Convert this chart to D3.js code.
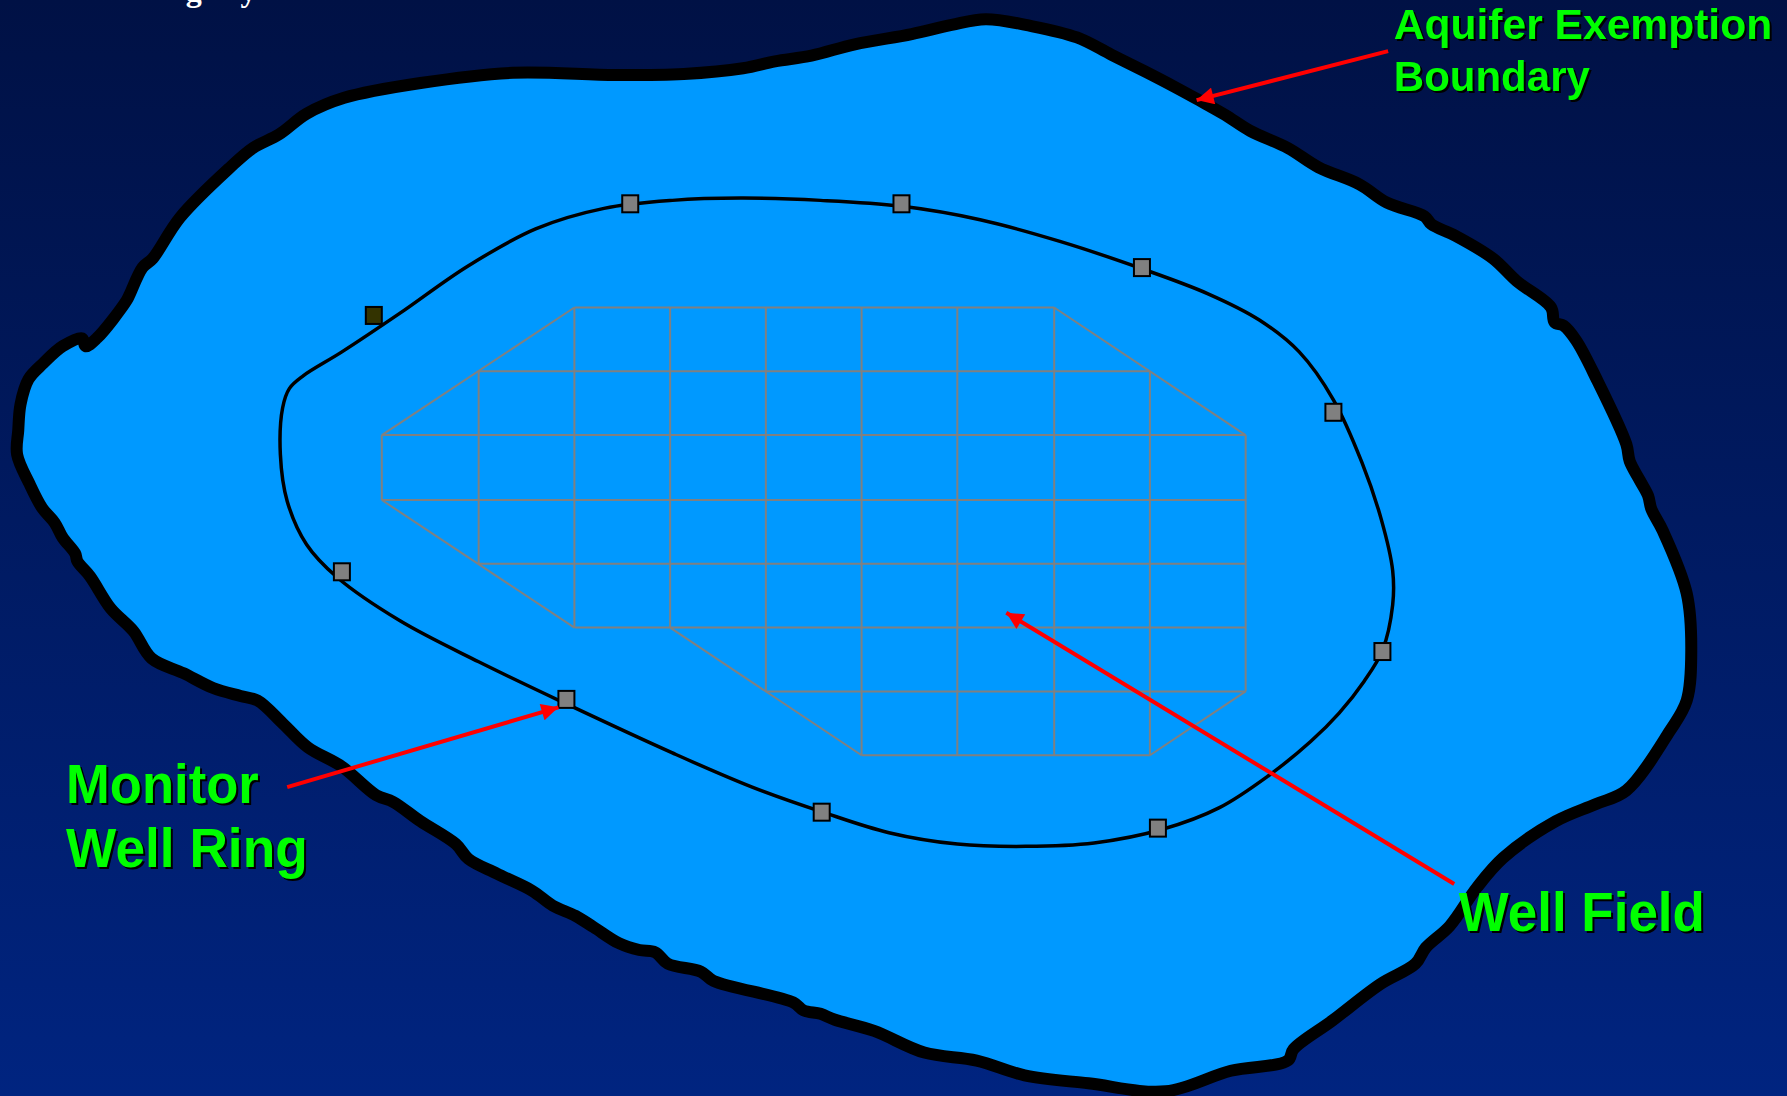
<!DOCTYPE html>
<html>
<head>
<meta charset="utf-8">
<script src="https://cdn.jsdelivr.net/npm/d3@7"></script>
<style>
html, body { margin: 0; padding: 0; background: #001147; overflow: hidden; }
svg { display: block; }
</style>
</head>
<body>
<div id="chartholder"></div>
<script>
var boundary = [[450,63],[540,65],[600,64],[652,59],[680,53],[712,48],[750,38],[800,29],[835,21],[865,16],[905,22],[945,32],[975,47],[1005,62],[1030,75],[1052,87],[1075,100],[1097,114],[1130,129],[1157,146],[1193,161],[1217,177],[1250,189],[1256,196],[1277,206],[1310,226],[1331,246],[1361,269],[1364,282],[1372,285],[1383,298],[1401,332],[1427,389],[1430,404],[1439,421],[1446,434],[1449,446],[1459,465],[1480,520],[1484,570],[1480,614],[1465,641],[1427,693],[1400,705],[1365,720],[1319,752],[1296,778],[1272,812],[1251,831],[1242,845],[1211,863],[1169,895],[1135,920],[1130,930],[1080,939],[1023,957],[955,950],[899,943],[857,930],[811,923],[767,904],[732,894],[720,889],[705,886],[696,879],[626,860],[615,852],[586,845],[575,835],[561,833],[543,827],[521,813],[505,803],[485,794],[467,781],[436,766],[411,753],[400,740],[369,720],[345,703],[330,697],[300,672],[270,655],[248,634],[226,614],[211,610],[187,603],[161,590],[133,577],[117,553],[97,533],[79,505],[68,492],[66,485],[55,471],[48,458],[37,445],[26,424],[15,398],[16,377],[18,354],[25,332],[38,318],[55,303],[72,296],[75,303],[85,296],[111,263],[114,257],[125,234],[134,226],[158,190],[202,146],[222,129],[245,117],[269,99],[302,85],[369,72]];

var ring = [[266,329],[300,308],[351,274],[410,233],[470,200],[530,182],[590,175],[650,173],[720,175],[790,180],[860,192],[930,211],[1002,235],[1060,257],[1105,280],[1140,308],[1170,350],[1195,405],[1212,455],[1222,500],[1222,530],[1213,570],[1197,597],[1175,625],[1150,650],[1113,680],[1070,708],[1020,727],[960,739],[900,742],[840,740],[780,730],[722,712],[660,690],[590,660],[497,617],[420,580],[351,544],[296,506],[269,477],[252,439],[246,398],[248,357],[254,340]];

var wells = [[553,178],[791,178],[1002,234],[1170,361],[1213,571],[1016,726],[721,712],[497,613],[300,501]];
var darkWell = [[328,276]];

var gridRows = [[269,504,925],[325,420,1009],[381,335,1093],[438,335,1093],[494,420,1093],[550,504,1093],[606,672,1093],[662,756,1009]];
var gridCols = [[335,381,438],[420,325,494],[504,269,550],[588,269,550],[672,269,606],[756,269,662],[840,269,662],[925,269,662],[1009,325,662],[1093,381,606]];
var gridDiagonals = [[504,269,335,381],[925,269,1093,381],[335,438,504,550],[588,550,756,662],[1093,606,1009,662]];

var arrows = [[1218,44,1050,87],[252,690,490,620],[1276,775,883,537]];

var labels = [
	{text: "Aquifer Exemption", x: 1223, y: 33, size: 43, len: 332},
	{text: "Boundary", x: 1223, y: 79, size: 43, len: 172},
	{text: "Monitor", x: 58, y: 704, size: 56, len: 169},
	{text: "Well Ring", x: 58, y: 760, size: 56, len: 212},
	{text: "Well Field", x: 1280, y: 816, size: 56, len: 216}
];

var titleScraps = [{text: "g", x: 163}, {text: "y", x: 211}];

var width = 1787, height = 1096;

var x = d3.scaleLinear().domain([0, 1568]).range([0, width]);
var y = d3.scaleLinear().domain([0, 962]).range([1, height + 1]);

var svg = d3.select("#chartholder")
			.append("svg")
			.attr("width", width)
			.attr("height", height);

//background gradient
var grad = svg.append("defs").append("linearGradient")
			.attr("id", "bg")
			.attr("x1", 0).attr("y1", 0)
			.attr("x2", 0).attr("y2", 1);
grad.append("stop").attr("offset", "0%").attr("stop-color", "#001145");
grad.append("stop").attr("offset", "100%").attr("stop-color", "#002480");

var marker = svg.select("defs").append("marker")
			.attr("id", "head")
			.attr("viewBox", "0 0 10 10")
			.attr("refX", 10).attr("refY", 5)
			.attr("markerUnits", "userSpaceOnUse")
			.attr("markerWidth", 19).attr("markerHeight", 17)
			.attr("orient", "auto");
marker.append("path").attr("d", "M0,0L10,5L0,10Z").attr("fill", "#ff0000");

svg.append("rect")
	.attr("width", width).attr("height", height)
	.attr("fill", "url(#bg)");

var line = d3.line()
			.x(function(d) { return x(d[0]); })
			.y(function(d) { return y(d[1]); });

//aquifer exemption boundary
svg.append("path")
	.attr("d", line.curve(d3.curveCatmullRomClosed.alpha(0.5))(boundary))
	.attr("fill", "#0099ff")
	.attr("stroke", "#000")
	.attr("stroke-width", 12)
	.attr("stroke-linejoin", "round");

//well field grid
var grid = svg.append("g").attr("stroke", "#808080").attr("stroke-width", 2).attr("fill", "none");
grid.selectAll(".row").data(gridRows).enter().append("line")
	.attr("class", "row")
	.attr("x1", function(d) { return x(d[1]); })
	.attr("x2", function(d) { return x(d[2]); })
	.attr("y1", function(d) { return y(d[0]); })
	.attr("y2", function(d) { return y(d[0]); });
grid.selectAll(".col").data(gridCols).enter().append("line")
	.attr("class", "col")
	.attr("x1", function(d) { return x(d[0]); })
	.attr("x2", function(d) { return x(d[0]); })
	.attr("y1", function(d) { return y(d[1]); })
	.attr("y2", function(d) { return y(d[2]); });
grid.selectAll(".diag").data(gridDiagonals).enter().append("line")
	.attr("class", "diag")
	.attr("x1", function(d) { return x(d[0]); })
	.attr("y1", function(d) { return y(d[1]); })
	.attr("x2", function(d) { return x(d[2]); })
	.attr("y2", function(d) { return y(d[3]); });

//monitor well ring
svg.append("path")
	.attr("d", line.curve(d3.curveCatmullRomClosed.alpha(0.5))(ring))
	.attr("fill", "none")
	.attr("stroke", "#000")
	.attr("stroke-width", 3.5);

//wells
function drawWells(data, color) {
	svg.append("g").selectAll("rect").data(data).enter().append("rect")
		.attr("x", function(d) { return x(d[0]) - 8; })
		.attr("y", function(d) { return y(d[1]) - 8.5; })
		.attr("width", 16)
		.attr("height", 17)
		.attr("fill", color)
		.attr("stroke", "#000")
		.attr("stroke-width", 2);
}
drawWells(wells, "#808080");
drawWells(darkWell, "#333300");

//red arrows
svg.append("g").selectAll("line").data(arrows).enter().append("line")
	.attr("x1", function(d) { return x(d[0]); })
	.attr("y1", function(d) { return y(d[1]); })
	.attr("x2", function(d) { return x(d[2]); })
	.attr("y2", function(d) { return y(d[3]); })
	.attr("stroke", "#ff0000")
	.attr("stroke-width", 4)
	.attr("marker-end", "url(#head)");

//labels with a hard black shadow
svg.append("g")
	.style("filter", "drop-shadow(2.5px 2.5px 0 #000)")
	.selectAll("text").data(labels).enter().append("text")
	.attr("x", function(d) { return x(d.x); })
	.attr("y", function(d) { return y(d.y); })
	.attr("font-family", "'Liberation Sans', Arial, sans-serif")
	.attr("font-weight", "bold")
	.attr("font-size", function(d) { return d.size; })
	.attr("textLength", function(d) { return x(d.len); })
	.attr("lengthAdjust", "spacingAndGlyphs")
	.attr("fill", "#00ff00")
	.text(function(d) { return d.text; });

//what is left of the slide title, cut off by the top edge
svg.append("g").selectAll("text").data(titleScraps).enter().append("text")
	.attr("x", function(d) { return x(d.x); })
	.attr("y", 1)
	.attr("font-family", "'Liberation Serif', serif")
	.attr("font-weight", "bold")
	.attr("font-size", 32)
	.attr("fill", "#ffffff")
	.text(function(d) { return d.text; });
</script>
</body>
</html>
